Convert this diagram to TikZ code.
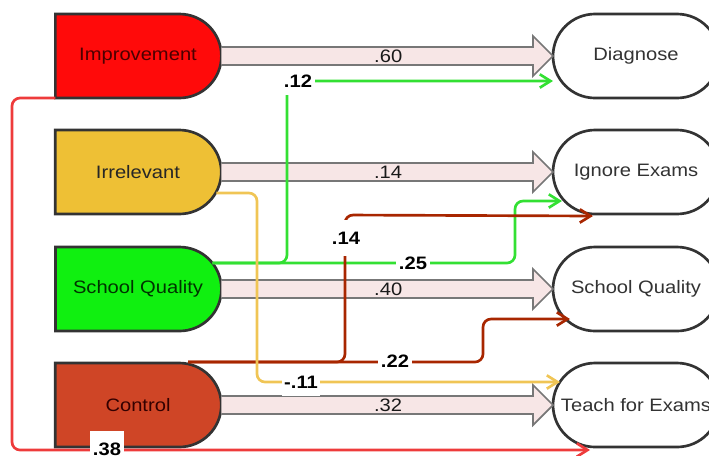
\documentclass[tikz,border=0pt]{standalone}
\usepackage{fontspec}
\setmainfont{Liberation Sans}[FakeStretch=1.12]
\usetikzlibrary{shapes.misc,arrows.meta,calc}
\definecolor{cImp}{HTML}{FF0A0A}
\definecolor{cIrr}{HTML}{EEC035}
\definecolor{cSq}{HTML}{10F010}
\definecolor{cCtl}{HTML}{CF4526}
\definecolor{cBorder}{HTML}{333333}
\definecolor{cShaft}{HTML}{F7E6E6}
\definecolor{cShaftB}{HTML}{777777}
\definecolor{cGreen}{HTML}{33E033}
\definecolor{cDark}{HTML}{A82600}
\definecolor{cYel}{HTML}{F0C555}
\definecolor{cRed}{HTML}{EE3B3B}
\newcommand{\mfs}{\fontsize{13.5}{16}\selectfont}
\begin{document}
\begin{tikzpicture}[x=0.75pt,y=-0.75pt,
  lnode/.style={rounded rectangle, rounded rectangle west arc=none, draw=cBorder,
    line width=2pt, minimum width=124.5pt, minimum height=63pt, inner sep=0pt,
    outer sep=0pt, font=\mfs},
  rnode/.style={rounded rectangle, draw=cBorder, fill=white, line width=2pt,
    minimum width=124.5pt, minimum height=63pt, inner sep=0pt, outer sep=0pt,
    font=\mfs, text=black!80},
  shaft/.style={fill=cShaft, draw=cShaftB, line width=1.3pt},
  slbl/.style={font=\mfs, text=black!90, inner sep=0pt},
  conn/.style={line width=2pt, rounded corners=6pt, -{Straight Barb[length=8pt,width=10pt]}},
  lbl/.style={fill=white, font=\mfs\bfseries, inner xsep=2pt, inner ysep=6pt}
]
\useasboundingbox (0,0) rectangle (709,455);
\clip (0,0) rectangle (709,455);

% left nodes
\node[lnode, fill=cImp, text=black!70!red] (imp) at (138,56) {Improvement};
\node[lnode, fill=cIrr, text=black!85] (irr) at (138,172) {Irrelevant};
\node[lnode, fill=cSq, text=black!80!green] (sql) at (138,289) {School Quality};
\node[lnode, fill=cCtl, text=black!80!red] (ctl) at (138,405) {Control};

% right nodes
\node[rnode] (diag) at (636,56) {Diagnose};
\node[rnode] (ign) at (636,172) {Ignore Exams};
\node[rnode] (sqr) at (636,289) {School Quality};
\node[rnode] (tfe) at (636,405) {Teach for Exams};

% wide arrows
\foreach \a/\b/\v in {imp/diag/.60, irr/ign/.14, sql/sqr/.40, ctl/tfe/.32}{
  \path[shaft] ($(\a.east)+(0,-9)$) -- ($(\b.west)+(-20,-9)$) -- ($(\b.west)+(-20,-20)$)
    -- (\b.west) -- ($(\b.west)+(-20,20)$) -- ($(\b.west)+(-20,9)$) -- ($(\a.east)+(0,9)$);
  \node[slbl] at ($(\a.east)!0.5!(\b.west)+(1,0)$) {\v};
}

% coordinates for connectors
\coordinate (gs) at ($(sql.east)+(-9,-26)$);
\coordinate (g1c) at (287,81);
\coordinate (g1e) at ($(diag.west)+(0,25)$);
\coordinate (g2c) at (515,201);
\coordinate (g2e) at ($(ign.west)+(9,29)$);
\coordinate (ds) at ($(ctl.north)+(50,-1)$);
\coordinate (d1c) at (345,215);
\coordinate (d1e) at ($(ign.south)+(-43,2)$);
\coordinate (d2c) at (483,319);
\coordinate (d2e) at ($(sqr.west)+(17,30)$);
\coordinate (ys) at ($(irr.east)+(-5,21)$);
\coordinate (yc) at (257,382);
\coordinate (ye) at ($(tfe.west)+(7,-23)$);
\coordinate (rc1) at (12,450);
\coordinate (re) at ($(tfe.south)+(-46,3)$);

% connectors
\draw[conn, cGreen] (gs) -| (g1c) -- (g1e);
\draw[conn, cGreen] (gs) -| (g2c) -- (g2e);
\draw[conn, cDark] (ds) -| (d1c) -- (d1e);
\draw[conn, cDark] (ds) -| (d2c) -- (d2e);
\draw[conn, cYel] (ys) -| (yc) -- (ye);
\draw[conn, cRed] (imp.south west) -| (rc1) -- (re);

% labels
\node[lbl] at ($(g1c)+(11,0)$) {.12};
\node[lbl] at (413,263) {.25};
\node[lbl, inner ysep=9pt] at (346,238) {.14};
\node[lbl] at (395,361) {.22};
\node[lbl] at (301,382) {-.11};
\node[lbl, inner ysep=9pt] at (107,449) {.38};
\end{tikzpicture}
\end{document}
